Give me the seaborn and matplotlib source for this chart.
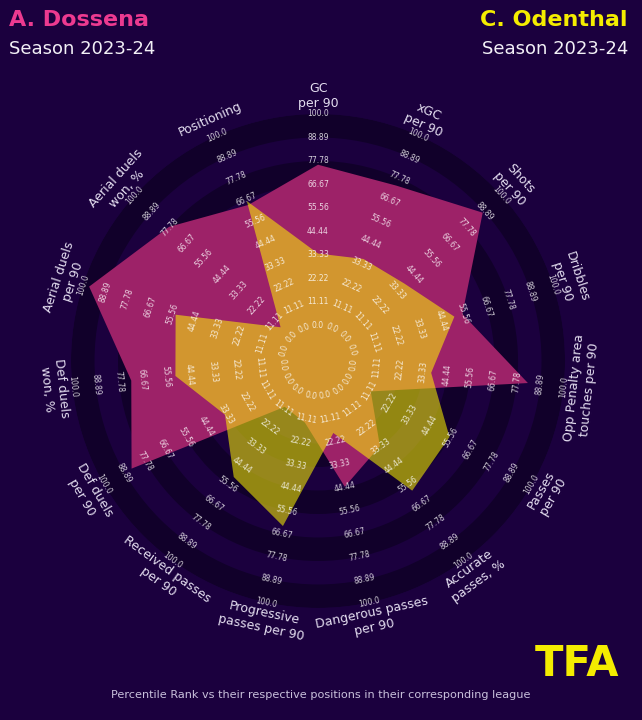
import numpy as np
import matplotlib
matplotlib.use("Agg")
import matplotlib.pyplot as plt
import seaborn as sns

# ---------------- data ----------------
params = ["GC\nper 90", "xGC\nper 90", "Shots\nper 90", "Dribbles\nper 90",
          "Opp Penalty area\ntouches per 90", "Passes\nper 90", "Accurate\npasses, %",
          "Dangerous passes\nper 90", "Progressive\npasses per 90",
          "Received passes\nper 90", "Def duels\nper 90", "Def duels\nwon, %",
          "Aerial duels\nper 90", "Aerial duels\nwon, %", "Positioning"]
dossena = [76, 74, 88, 55, 83, 12, 33, 44, 13, 10, 85, 72, 97, 78, 64]
odenthal = [34, 36, 38, 51, 37, 55, 59, 18, 63, 51, 34, 51, 54, 7, 66]
ring_values = [0.0, 11.11, 22.22, 33.33, 44.44, 55.56, 66.67, 77.78, 88.89, 100.0]
ring_labels = ["0.0", "11.11", "22.22", "33.33", "44.44", "55.56",
               "66.67", "77.78", "88.89", "100.0"]
player_a = "A. Dossena"
player_b = "C. Odenthal"
season = "Season 2023-24"
footer = "Percentile Rank vs their respective positions in their corresponding league"

# ---------------- style ----------------
BG = "#1b003e"
DARK_RING = "#11002a"
PINK_FILL = "#9d2268"
YELLOW_FILL = "#fff700"
PINK_TITLE = "#ec3a90"
YELLOW_TITLE = "#f4ec00"
TEXT = "#e4def0"

sns.set_theme(style="white")
plt.rcParams["font.family"] = ["DejaVu Sans"]

fig = plt.figure(figsize=(6.42, 7.2), dpi=100, facecolor=BG)
ax = fig.add_axes([0.1106, 0.1556, 0.7695, 0.6861], projection="polar")
ax.set_theta_zero_location("N")
ax.set_theta_direction(-1)
ax.set_ylim(0, 100)
ax.set_rorigin(-16.8)
ax.set_axis_off()

n = len(params)
theta = np.linspace(0, 2 * np.pi, n, endpoint=False)

# alternating ring bands (outermost dark)
for k in range(0, len(ring_values) - 1, 2):
    lo, hi = ring_values[k], ring_values[k + 1]
    ax.bar(0, hi - lo, width=2 * np.pi, bottom=lo, color=DARK_RING,
           edgecolor="none", zorder=1, align="center")

# player polygons (unclipped so they also cover the centre hole)
ax.fill(theta, dossena, color=PINK_FILL, edgecolor="none", zorder=2, clip_on=False)
ax.fill(theta, odenthal, color=YELLOW_FILL, alpha=0.55, edgecolor="none",
        zorder=3, clip_on=False)

# labels
for i, (t, p) in enumerate(zip(theta, params)):
    deg = np.degrees(t)
    rot = -deg
    if 90 < deg < 270:
        rot += 180
    ax.text(t, 108.5, p, rotation=rot, rotation_mode="anchor", ha="center",
            va="center", fontsize=9, color=TEXT, clip_on=False, zorder=5,
            multialignment="center")
    for v, lab in zip(ring_values, ring_labels):
        ax.text(t, v, lab, rotation=rot, rotation_mode="anchor", ha="center",
                va="center", fontsize=5.5, color="white", alpha=0.8,
                clip_on=False, zorder=4)

# titles
fig.text(0.014, 0.9639, player_a, ha="left", va="baseline", fontsize=16,
         fontweight="bold", color=PINK_TITLE)
fig.text(0.014, 0.925, season, ha="left", va="baseline", fontsize=13, color="#f2f0f6")
fig.text(0.978, 0.9639, player_b, ha="right", va="baseline", fontsize=16,
         fontweight="bold", color=YELLOW_TITLE)
fig.text(0.978, 0.925, season, ha="right", va="baseline", fontsize=13, color="#f2f0f6")

# footer + logo
fig.text(0.5, 0.0347, footer, ha="center", va="center", fontsize=8.1, color="#c9c1dc")
fig.text(0.8988, 0.0778, "TFA", ha="center", va="center", fontsize=30,
         fontweight="heavy", color=YELLOW_TITLE)

fig.savefig("out.png", dpi=100, facecolor=BG)
